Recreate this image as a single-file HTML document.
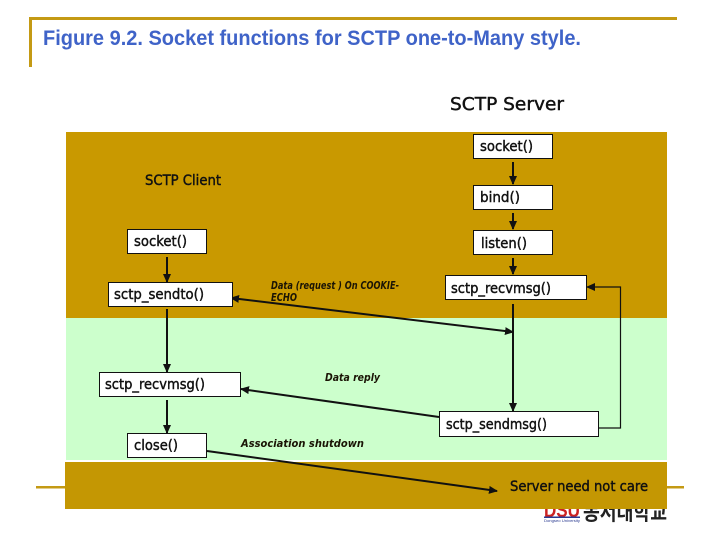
<!DOCTYPE html>
<html>
<head>
<meta charset="utf-8">
<style>
html,body{margin:0;padding:0;background:#fff;width:720px;height:540px;overflow:hidden}
svg{display:block}
.m{font-family:"DejaVu Sans","Liberation Sans",sans-serif;font-size:14.5px;fill:#111;stroke:#111;stroke-width:.45}
.i{font-family:"DejaVu Sans","Liberation Sans",sans-serif;font-size:10.5px;font-style:italic;font-weight:bold;fill:#1a1405}
.b{fill:#fff;stroke:#111;stroke-width:1}
.l{stroke:#111;stroke-width:2;fill:none}
</style>
</head>
<body>
<svg width="720" height="540" viewBox="0 0 720 540" xmlns="http://www.w3.org/2000/svg">
<defs>
<marker id="a" markerUnits="userSpaceOnUse" markerWidth="9" markerHeight="8" refX="8" refY="4" orient="auto-start-reverse"><path d="M0 0L9 4L0 8Z" fill="#111"/></marker>
</defs>
<rect x="29" y="17" width="648" height="3" fill="#c49a14"/>
<rect x="29" y="17" width="3" height="50" fill="#c49a14"/>
<text x="43" y="45" font-family="Liberation Sans, sans-serif" font-weight="bold" font-size="21" fill="#3f63c8" textLength="538" lengthAdjust="spacingAndGlyphs">Figure 9.2. Socket functions for SCTP one-to-Many style.</text>
<text class="m" x="450" y="110" style="font-size:18px" textLength="114" lengthAdjust="spacingAndGlyphs">SCTP Server</text>

<rect x="36" y="486" width="648" height="2.5" fill="#c49a14"/>

<g>
<text x="544" y="517" font-family="Liberation Sans, sans-serif" font-weight="bold" font-size="20" fill="#c22" textLength="36" lengthAdjust="spacingAndGlyphs">DSU</text>
<rect x="544" y="516.5" width="36" height="1.5" fill="#2a3a90"/>
<text x="544" y="522" font-family="Liberation Sans, sans-serif" font-size="4" fill="#2a3a90" textLength="36" lengthAdjust="spacingAndGlyphs">Dongseo University</text>
<text x="583" y="520" font-family="Liberation Sans,'Noto Sans CJK KR',sans-serif" font-size="22" font-weight="bold" fill="#222" textLength="84" lengthAdjust="spacingAndGlyphs">동서대학교</text>
</g>

<rect x="66" y="132" width="601" height="186" fill="#c99900"/>
<rect x="66" y="318" width="601" height="142" fill="#ccffcc"/>
<rect x="65" y="462" width="602" height="47" fill="#c49703"/>

<text class="m" x="145" y="185" textLength="76" lengthAdjust="spacingAndGlyphs">SCTP Client</text>

<!-- connectors -->
<g class="l">
<line x1="513" y1="162" x2="513" y2="184" marker-end="url(#a)"/>
<line x1="513" y1="213" x2="513" y2="229" marker-end="url(#a)"/>
<line x1="513" y1="258" x2="513" y2="274" marker-end="url(#a)"/>
<line x1="513" y1="304" x2="513" y2="411" marker-end="url(#a)"/>
<line x1="167" y1="257" x2="167" y2="282" marker-end="url(#a)"/>
<line x1="167" y1="309" x2="167" y2="372" marker-end="url(#a)"/>
<line x1="167" y1="400" x2="167" y2="433" marker-end="url(#a)"/>
<line x1="231" y1="298" x2="513" y2="332" marker-start="url(#a)" marker-end="url(#a)"/>
<line x1="439" y1="417" x2="241" y2="389" marker-end="url(#a)"/>
<line x1="207" y1="451" x2="497" y2="491" marker-end="url(#a)"/>
</g>
<path d="M599 428H620.5V287H587" fill="none" stroke="#111" stroke-width="1.2" marker-end="url(#a)"/>

<!-- boxes -->
<rect class="b" x="473.5" y="134.5" width="79" height="24"/>
<rect class="b" x="473.5" y="185.5" width="79" height="24"/>
<rect class="b" x="473.5" y="230.5" width="79" height="24"/>
<rect class="b" x="445.5" y="275.5" width="141" height="24"/>
<rect class="b" x="127.5" y="229.5" width="79" height="24"/>
<rect class="b" x="108.5" y="282.5" width="124" height="24"/>
<rect class="b" x="99.5" y="372.5" width="141" height="24"/>
<rect class="b" x="127.5" y="433.5" width="79" height="24"/>
<rect class="b" x="439.5" y="411.5" width="159" height="25"/>

<text class="m" x="480" y="151" textLength="53" lengthAdjust="spacingAndGlyphs">socket()</text>
<text class="m" x="480" y="202" textLength="40" lengthAdjust="spacingAndGlyphs">bind()</text>
<text class="m" x="481" y="248" textLength="46" lengthAdjust="spacingAndGlyphs">listen()</text>
<text class="m" x="451" y="293" textLength="100" lengthAdjust="spacingAndGlyphs">sctp_recvmsg()</text>
<text class="m" x="134" y="246" textLength="53" lengthAdjust="spacingAndGlyphs">socket()</text>
<text class="m" x="114" y="299" textLength="90" lengthAdjust="spacingAndGlyphs">sctp_sendto()</text>
<text class="m" x="105" y="389" textLength="100" lengthAdjust="spacingAndGlyphs">sctp_recvmsg()</text>
<text class="m" x="134" y="450" textLength="44" lengthAdjust="spacingAndGlyphs">close()</text>
<text class="m" x="446" y="429" textLength="101" lengthAdjust="spacingAndGlyphs">sctp_sendmsg()</text>
<text class="m" x="510" y="491" textLength="138" lengthAdjust="spacingAndGlyphs">Server need not care</text>

<text class="i" x="271" y="289" textLength="128" lengthAdjust="spacingAndGlyphs">Data (request ) On COOKIE-</text>
<text class="i" x="271" y="301" textLength="26" lengthAdjust="spacingAndGlyphs">ECHO</text>
<text class="i" x="325" y="381" textLength="55" lengthAdjust="spacingAndGlyphs">Data reply</text>
<text class="i" x="241" y="447" textLength="123" lengthAdjust="spacingAndGlyphs">Association shutdown</text>
</svg>
</body>
</html>
